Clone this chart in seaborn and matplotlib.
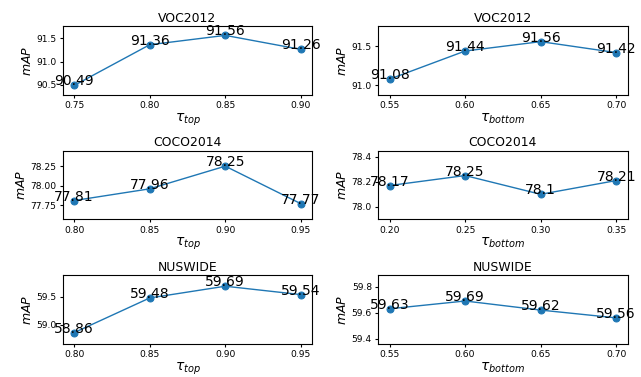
import matplotlib
matplotlib.use("Agg")
import matplotlib.pyplot as plt
import seaborn as sns
import pandas as pd

voc_top_x = [0.75, 0.80, 0.85, 0.90]
voc_top_y = [90.49, 91.36, 91.56, 91.26]
voc_bot_x = [0.55, 0.60, 0.65, 0.70]
voc_bot_y = [91.08, 91.44, 91.56, 91.42]
coco_top_x = [0.80, 0.85, 0.90, 0.95]
coco_top_y = [77.81, 77.96, 78.25, 77.77]
coco_bot_x = [0.20, 0.25, 0.30, 0.35]
coco_bot_y = [78.17, 78.25, 78.1, 78.21]
nus_top_x = [0.80, 0.85, 0.90, 0.95]
nus_top_y = [58.86, 59.48, 59.69, 59.54]
nus_bot_x = [0.55, 0.60, 0.65, 0.70]
nus_bot_y = [59.63, 59.69, 59.62, 59.56]

yticks_list = [[90.5, 91.0, 91.5], [91.0, 91.5],
               [77.75, 78.00, 78.25], [78.0, 78.2, 78.4],
               [59.0, 59.5], [59.4, 59.6, 59.8]]
ytick_fmt = ["%.1f", "%.1f", "%.2f", "%.1f", "%.1f", "%.1f"]

titles = ["VOC2012", "VOC2012", "COCO2014", "COCO2014", "NUSWIDE", "NUSWIDE"]
xlabels = [r"$\tau_{top}$", r"$\tau_{bottom}$"] * 3
series = [(voc_top_x, voc_top_y), (voc_bot_x, voc_bot_y),
          (coco_top_x, coco_top_y), (coco_bot_x, coco_bot_y),
          (nus_top_x, nus_top_y), (nus_bot_x, nus_bot_y)]

fig, axes = plt.subplots(3, 2, figsize=(6.41, 3.77), dpi=100)
fig.subplots_adjust(left=0.098, right=0.979, top=0.931, bottom=0.088,
                     wspace=0.265, hspace=0.81)

for ax, (xs, ys), title, xl, yt, fmt in zip(axes.flat, series, titles, xlabels,
                                            yticks_list, ytick_fmt):
    df = pd.DataFrame({"x": xs, "y": ys})
    sns.lineplot(data=df, x="x", y="y", ax=ax, marker="o", color="#1f77b4",
                 markeredgecolor="#1f77b4", markersize=5, linewidth=1)
    for xv, yv in zip(xs, ys):
        ax.text(xv, yv, str(yv), ha="center", va="baseline", fontsize=10)
    ax.set_ylim(min(ys) - 0.2, max(ys) + 0.2)
    ax.set_xticks(xs)
    ax.set_xticklabels(["%.2f" % v for v in xs])
    ax.set_yticks(yt)
    ax.set_yticklabels([fmt % v for v in yt])
    ax.set_title(title, fontsize=8.9, pad=3)
    ax.set_xlabel(xl, fontsize=10, labelpad=1)
    ax.set_ylabel(r"$mAP$", fontsize=9, labelpad=2)
    ax.tick_params(labelsize=6.6, length=2.5, pad=2)

fig.savefig("out.png", dpi=100)
